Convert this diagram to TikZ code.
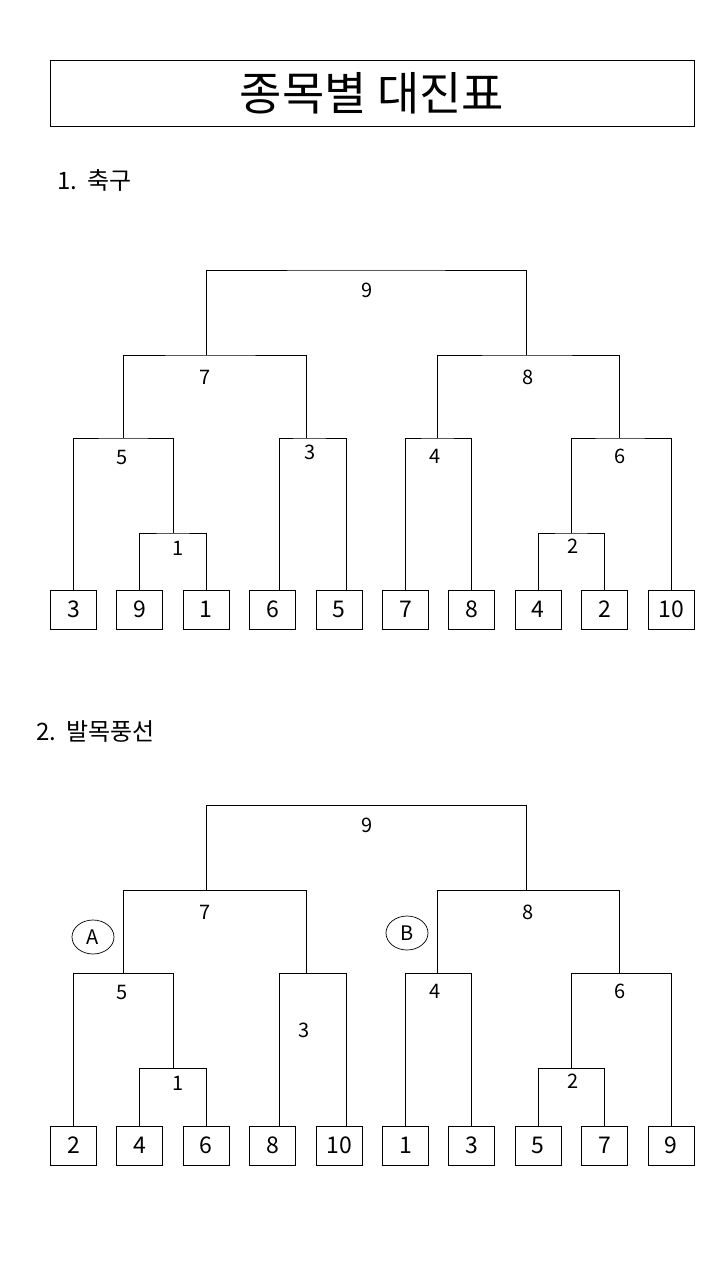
\documentclass[tikz,border=0pt]{standalone}
\usepackage{fontspec}
\setmainfont{Noto Sans CJK KR}
\usetikzlibrary{shapes.geometric}

\tikzset{
  leaf/.style={draw, line width=1pt, minimum width=46pt, minimum height=39pt,
    inner sep=0pt, font=\fontsize{23}{26}\selectfont},
  rnd/.style={inner sep=0pt, font=\fontsize{20}{22}\selectfont},
  tag/.style={draw, ellipse, line width=0.7pt, minimum width=42pt,
    minimum height=34pt, inner sep=0pt, font=\fontsize{20}{22}\selectfont},
  head/.style={anchor=west, inner sep=0pt, font=\fontsize{24}{28}\selectfont},
  wire/.style={line width=1pt},
}

\begin{document}
\begin{tikzpicture}[x=1pt, y=-1pt]
\useasboundingbox (0,0) rectangle (720,1280);
\node[draw, line width=1pt, minimum width=644pt, minimum height=66pt,
  font=\fontsize{46}{50}\selectfont] (title) at (372,93.5) {종목별 대진표};
\node[head] (h1) at (57,180) {1.\hspace{10pt}축구};
\node[head] (h2) at (36,732) {2.\hspace{10pt}발목풍선};

% entrants
\foreach \v [count=\i] in {3,9,1,6,5,7,8,4,2,10}
  \node[leaf] (p\i) at ({73.5+66.4*(\i-1)},609.5) {\v};
\foreach \v [count=\i] in {2,4,6,8,10,1,3,5,7,9}
  \node[leaf] (q\i) at ({73.5+66.4*(\i-1)},1145.5) {\v};

% rounds
\foreach \s/\dy/\tx/\ty in {p/0/310/452, q/535/304/1030} {
  \coordinate (\s r1) at (173,{533+\dy});
  \coordinate (\s r2) at (571,{533+\dy});
  \coordinate (\s r3) at (306,{438+\dy});
  \coordinate (\s r4) at (437,{438+\dy});
  \coordinate (\s r5) at (123,{438+\dy});
  \coordinate (\s r6) at (619,{438+\dy});
  \coordinate (\s r7) at (206,{355+\dy});
  \coordinate (\s r8) at (526,{355+\dy});
  \coordinate (\s r9) at (366,{270+\dy});
  \draw[wire] (\s2.north) |- (\s r1) -| (\s3.north);
  \draw[wire] (\s1.north) |- (\s r5) -| (\s r1);
  \draw[wire] ([xshift=7pt]\s4.north) |- (\s r3) -| ([xshift=7pt]\s5.north);
  \draw[wire] (\s r5) |- (\s r7) -| (\s r3);
  \draw[wire] (\s6.north) |- (\s r4) -| (\s7.north);
  \draw[wire] (\s8.north) |- (\s r2) -| (\s9.north);
  \draw[wire] (\s r2) |- (\s r6) -| (\s10.north);
  \draw[wire] (\s r4) |- (\s r8) -| (\s r6);
  \draw[wire] (\s r7) |- (\s r9) -| (\s r8);
  \node[rnd] (\s n1) at (178,{548+\dy}) {1};
  \node[rnd] (\s n2) at (573,{546+\dy}) {2};
  \node[rnd] (\s n3) at (\tx,\ty) {3};
  \node[rnd] (\s n4) at (435,{456+\dy}) {4};
  \node[rnd] (\s n5) at (122,{457+\dy}) {5};
  \node[rnd] (\s n6) at (620,{456+\dy}) {6};
  \node[rnd] (\s n7) at (205,{377+\dy}) {7};
  \node[rnd] (\s n8) at (528,{377+\dy}) {8};
  \node[rnd] (\s n9) at (367,{290+\dy}) {9};
}
\node[tag] (ta) at (93,937) {A};
\node[tag] (tb) at (407,933) {B};
\end{tikzpicture}
\end{document}
